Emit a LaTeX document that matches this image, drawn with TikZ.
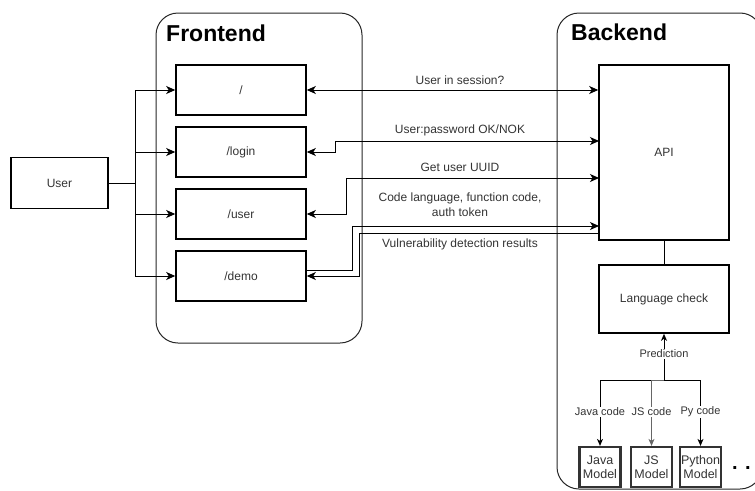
\documentclass[tikz,border=0pt]{standalone}
\usepackage{fontspec}
\setmainfont{Liberation Sans}
\usetikzlibrary{arrows.meta,calc}
\definecolor{txt}{HTML}{333333}
\tikzset{
  box/.style={draw=black, line width=1.6pt, inner sep=0pt, text=txt, font=\fontsize{12}{14}\selectfont, align=center},
  mbox/.style={draw=txt, line width=2.2pt, inner sep=0pt, text=txt, font=\fontsize{12.5}{14}\selectfont, align=center, minimum width=41pt, minimum height=40pt},
  cont/.style={draw=black!85, line width=1pt, rounded corners=22pt},
  conn/.style={draw=black, line width=1pt},
  tip/.style={-{Stealth[length=9pt,width=8pt,inset=2.5pt]}},
  dtip/.style={{Stealth[length=9pt,width=8pt,inset=2.5pt]}-{Stealth[length=9pt,width=8pt,inset=2.5pt]}},
  stip/.style={-{Stealth[length=7pt,width=6pt,inset=2pt]}},
  elabel/.style={text=txt, font=\fontsize{12}{15}\selectfont, inner sep=1pt, align=center},
  wlabel/.style={text=txt, font=\fontsize{11}{13}\selectfont, inner sep=1pt, align=center, fill=white},
  title/.style={font=\fontsize{23}{26}\selectfont\bfseries, anchor=base west, inner sep=0pt},
}
\begin{document}
\begin{tikzpicture}[x=1pt,y=-1pt]
\useasboundingbox (0,0) rectangle (755,490);
\clip (0,0) rectangle (755,490);
% containers
\draw[cont] (156,13) rectangle (362,343);
\draw[cont] (557,13) rectangle (762,489);
\node[title] (tf) at (166,41) {Frontend};
\node[title] (tb) at (571,40) {Backend};
% frontend boxes
\node[box, minimum width=97pt, minimum height=51pt] (usr) at (59.5,183) {User};
\node[box, minimum width=130pt, minimum height=50pt] (root) at (241,90) {/};
\node[box, minimum width=130pt, minimum height=50pt] (login) at (241,152) {/login};
\node[box, minimum width=130pt, minimum height=50pt] (user) at (241,214) {/user};
\node[box, minimum width=130pt, minimum height=50pt] (demo) at (241,276) {/demo};
% backend boxes
\node[box, minimum width=130pt, minimum height=175pt] (api) at (664,152.5) {API};
\node[box, minimum width=130pt, minimum height=68pt] (lc) at (664,299) {Language check};
\node[mbox] (java) at (600,467) {Java\\Model};
\node[mbox] (js) at (651.5,467) {JS\\Model};
\node[mbox] (py) at (700.5,467) {Python\\Model};
\node[font=\fontsize{20}{22}\selectfont\bfseries, anchor=base west, inner sep=0pt, text=black] (dots) at (732,469) {. .};
% user fan-out
\coordinate (j) at (135,183);
\draw[conn] (usr.east) -- (j);
\draw[conn,tip] (j) |- (root.west);
\draw[conn,tip] (j) |- (login.west);
\draw[conn,tip] (j) |- (user.west);
\draw[conn,tip] (j) |- (demo.west);
% frontend <-> API
\coordinate (p2) at (599,141);
\coordinate (p3) at (599,178);
\coordinate (p4) at (599,226);
\coordinate (p5) at (599,233);
\coordinate (d1) at ($(demo.east)+(0,-6)$);
\draw[conn,dtip] (root.east) -- (root.east -| api.west);
\draw[conn,dtip] (login.east) -- ++(29,0) |- (p2);
\draw[conn,dtip] (user.east) -- ++(40,0) |- (p3);
\draw[conn,tip] (d1) -- (352,270) |- (p4);
\draw[conn,tip] (p5) -- (359,233) |- (demo.east);
\node[elabel] (l1) at (460,80) {User in session?};
\node[elabel] (l2) at (460,130) {User:password OK/NOK};
\node[elabel] (l3) at (460,167) {Get user UUID};
\node[elabel] (l4) at (460,204.5) {Code language, function code,\\auth token};
\node[elabel] (l5) at (460,244) {Vulnerability detection results};
% backend internal
\draw[conn] (api.south) -- (lc.north);
\coordinate (bar) at (664,380);
\draw[conn,stip] (bar) -- (lc.south);
\draw[conn,stip] (bar) -| (java.north);
\draw[conn,stip,draw=black!60] (bar) -| (js.north);
\draw[conn,stip] (bar) -| (py.north);
\node[wlabel] (lp) at (664,354) {Prediction};
\node[wlabel] (lj) at (600,412) {Java code};
\node[wlabel] (ljs) at (651.5,412) {JS code};
\node[wlabel] (lpy) at (700.5,412) {Py code};
\end{tikzpicture}
\end{document}
